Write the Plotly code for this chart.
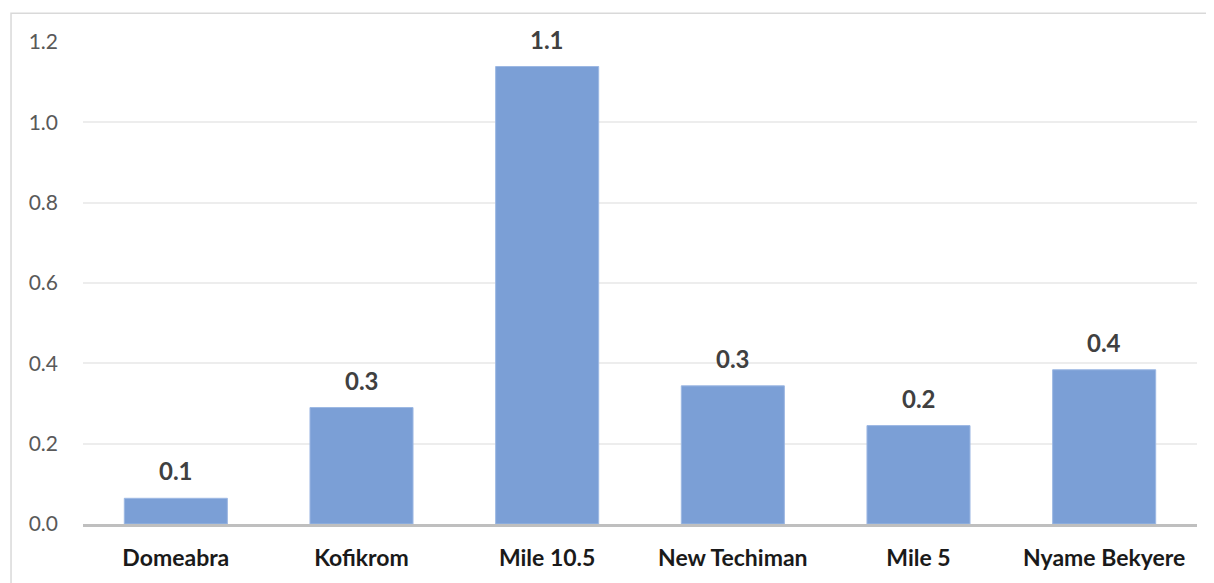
import plotly.graph_objects as go

categories = ["Domeabra", "Kofikrom", "Mile 10.5", "New Techiman", "Mile 5", "Nyame Bekyere"]
values = [0.064, 0.29, 1.139, 0.344, 0.245, 0.384]
labels = [f"{v:.1f}" for v in values]
tick_vals = [0.0, 0.2, 0.4, 0.6, 0.8, 1.0, 1.2]
tick_text = [f"{t:.1f}" for t in tick_vals]

FONT = "Lato"

fig = go.Figure(go.Bar(
    x=categories, y=values,
    marker=dict(color="#7B9FD6", line=dict(color="#9DB8E3", width=1)),
    hoverinfo="skip",
))

for c, v, t in zip(categories, values, labels):
    fig.add_annotation(x=c, y=v, text=f"<b>{t}</b>", showarrow=False,
                       yanchor="bottom", yshift=11,
                       font=dict(family=FONT, size=24, color="#404040"))

fig.update_layout(
    width=1206, height=575,
    margin=dict(l=75, r=17, t=34, b=56),
    paper_bgcolor="white", plot_bgcolor="white",
    bargap=0.445,
    showlegend=False,
    font=dict(family=FONT),
    shapes=[dict(type="rect", xref="paper", yref="paper",
                 x0=-0.0646, x1=1.1, y0=-0.2, y1=1.0598,
                 line=dict(color="#D9D9D9", width=1.5), layer="below")],
)
fig.update_yaxes(range=[0, 1.2], tickvals=tick_vals, ticktext=tick_text,
                 showgrid=True, gridcolor="#EDEDED", gridwidth=1.5,
                 zeroline=False, showline=False,
                 tickfont=dict(family=FONT, size=21, color="#595959"),
                 ticks="", ticklabelstandoff=24)
fig.update_xaxes(showline=True, linecolor="#BFBFBF", linewidth=2.5,
                 ticks="", tickfont=dict(family=FONT, size=23, color="#1A1A1A"),
                 ticklabelstandoff=12,
                 tickvals=categories, ticktext=[f"<b>{c}</b>" for c in categories])

fig.write_html("out.html")
